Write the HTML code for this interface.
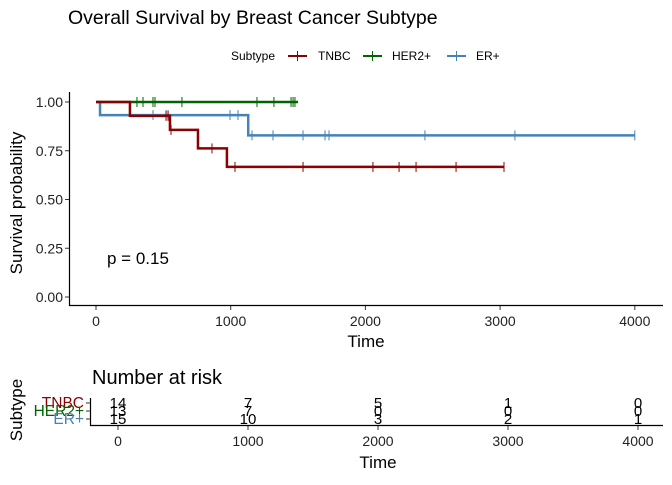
<!DOCTYPE html>
<html><head><meta charset="utf-8"><style>
body{margin:0;background:#fff;font-family:"Liberation Sans",sans-serif}
svg text{font-family:"Liberation Sans",sans-serif}
</style></head><body>
<svg id="c" width="672" height="480" xmlns="http://www.w3.org/2000/svg">
<text x="68" y="24" font-size="19.5" fill="#000">Overall Survival by Breast Cancer Subtype</text>
<g font-size="12">
<text x="231" y="60">Subtype</text>
<g><line x1="288" y1="56" x2="307" y2="56" stroke="#8B0000" stroke-width="2"/><line x1="297.5" y1="51" x2="297.5" y2="61" stroke="#8B0000"/><text x="318" y="60">TNBC</text></g>
<g><line x1="363" y1="56" x2="382" y2="56" stroke="#006400" stroke-width="2"/><line x1="372.5" y1="51" x2="372.5" y2="61" stroke="#006400"/><text x="392" y="60">HER2+</text></g>
<g><line x1="447" y1="56" x2="466" y2="56" stroke="#4682B4" stroke-width="2"/><line x1="456.5" y1="51" x2="456.5" y2="61" stroke="#4682B4"/><text x="476" y="60">ER+</text></g>
</g>
<g id="main"></g>
<text x="107" y="264" font-size="17">p = 0.15</text>
<text transform="translate(22,203) rotate(-90)" font-size="17" text-anchor="middle">Survival probability</text>
<text x="366" y="347" font-size="17" text-anchor="middle">Time</text>
<text x="92" y="384" font-size="20">Number at risk</text>
<text transform="translate(22,410) rotate(-90)" font-size="17" text-anchor="middle">Subtype</text>
<text x="378" y="468" font-size="17" text-anchor="middle">Time</text>
<g id="risk"></g>
</svg>
<script>
const xTicks=[0,1000,2000,3000,4000];
const yTicks=[0,0.25,0.5,0.75,1];
const yTickLabels=["0.00","0.25","0.50","0.75","1.00"];
const groups=["TNBC","HER2+","ER+"];
const colors=["#8B0000","#006400","#4682B4"];
const tnbcTimes=[0,252,549,757,972,3029];
const tnbcSurv=[1,0.929,0.857,0.762,0.667,0.667];
const tnbcCens=[520,535,557,861,1032,1537,2056,2250,2376,2673,3029];
const her2Times=[0,1500];
const her2Surv=[1,1];
const her2Cens=[304,349,423,438,638,1195,1321,1448,1463,1477];
const erTimes=[0,30,1130,4000];
const erSurv=[1,0.933,0.829,0.829];
const erCens=[423,520,535,995,1054,1158,1314,1537,1700,1730,2442,3110,4000];
const riskTimes=[0,1000,2000,3000,4000];
const riskTNBC=[14,7,5,1,0];
const riskHER2=[13,7,0,0,0];
const riskER=[15,10,3,2,1];
const NS="http://www.w3.org/2000/svg";
function mk(p,tag,a){const e=document.createElementNS(NS,tag);for(const k in a)e.setAttribute(k,a[k]);p.appendChild(e);return e;}
const X=t=>96+t*0.1347, Y=s=>297-s*195;
const g=document.getElementById('main');
let ax=mk(g,'line',{x1:69,y1:305.5,x2:663,y2:305.5,stroke:'#000','stroke-width':1.2});


let ay=mk(g,'line',{x1:69.5,y1:92,x2:69.5,y2:306,stroke:'#000','stroke-width':1.2});


xTicks.forEach(t=>{mk(g,'line',{x1:X(t),y1:306,x2:X(t),y2:310,stroke:'#333'});
 const tx=mk(g,'text',{x:X(t),y:326,'font-size':14,'text-anchor':'middle',fill:'#222'});tx.textContent=t;
 
 });
yTicks.forEach((v,i)=>{mk(g,'line',{x1:65,y1:Y(v),x2:69,y2:Y(v),stroke:'#333'});
 const tx=mk(g,'text',{x:63,y:Y(v)+5,'font-size':14,'text-anchor':'end',fill:'#222'});tx.textContent=yTickLabels[i];
 
 });
const series=[[tnbcTimes,tnbcSurv,tnbcCens],[her2Times,her2Surv,her2Cens],[erTimes,erSurv,erCens]];
function survAt(ts,ss,t){let s=ss[0];for(let i=0;i<ts.length;i++)if(ts[i]<=t)s=ss[i];return s;}
[1,2,0].forEach(k=>{const [ts,ss,cs]=series[k];
 let d='M'+X(ts[0])+','+Y(ss[0]);
 for(let i=1;i<ts.length;i++){d+=' H'+X(ts[i])+' V'+Y(ss[i]);}
 const p=mk(g,'path',{d:d,fill:'none',stroke:colors[k],'stroke-width':2.5});
 
 
 cs.forEach(c=>{const y=Y(survAt(ts,ss,c));
  const m=mk(g,'line',{x1:X(c),y1:y-5,x2:X(c),y2:y+5,stroke:colors[k],'stroke-width':1});
  
  });
});
const r=document.getElementById('risk');
const RX=t=>118+t*0.13;
const rowY=[403,411,419];
let rax=mk(r,'line',{x1:90,y1:425.5,x2:663,y2:425.5,stroke:'#000','stroke-width':1.2});


let ray=mk(r,'line',{x1:90.5,y1:398,x2:90.5,y2:426,stroke:'#000','stroke-width':1.2});


xTicks.forEach(t=>{mk(r,'line',{x1:RX(t),y1:426,x2:RX(t),y2:430,stroke:'#333'});
 const tx=mk(r,'text',{x:RX(t),y:446,'font-size':14,'text-anchor':'middle',fill:'#222'});tx.textContent=t;
 
 });
const riskVals=[riskTNBC,riskHER2,riskER];
groups.forEach((gname,k)=>{const y=rowY[k];
 mk(r,'line',{x1:86,y1:y,x2:90,y2:y,stroke:'#333'});
 const lb=mk(r,'text',{x:84,y:y+5,'font-size':15.5,'text-anchor':'end',fill:colors[k]});lb.textContent=gname;
 
 
 riskTimes.forEach((t,i)=>{const tx=mk(r,'text',{x:RX(t),y:y+5,'font-size':15,'text-anchor':'middle',fill:'#000'});tx.textContent=riskVals[k][i];
  
  });
});
</script>
</body></html>
